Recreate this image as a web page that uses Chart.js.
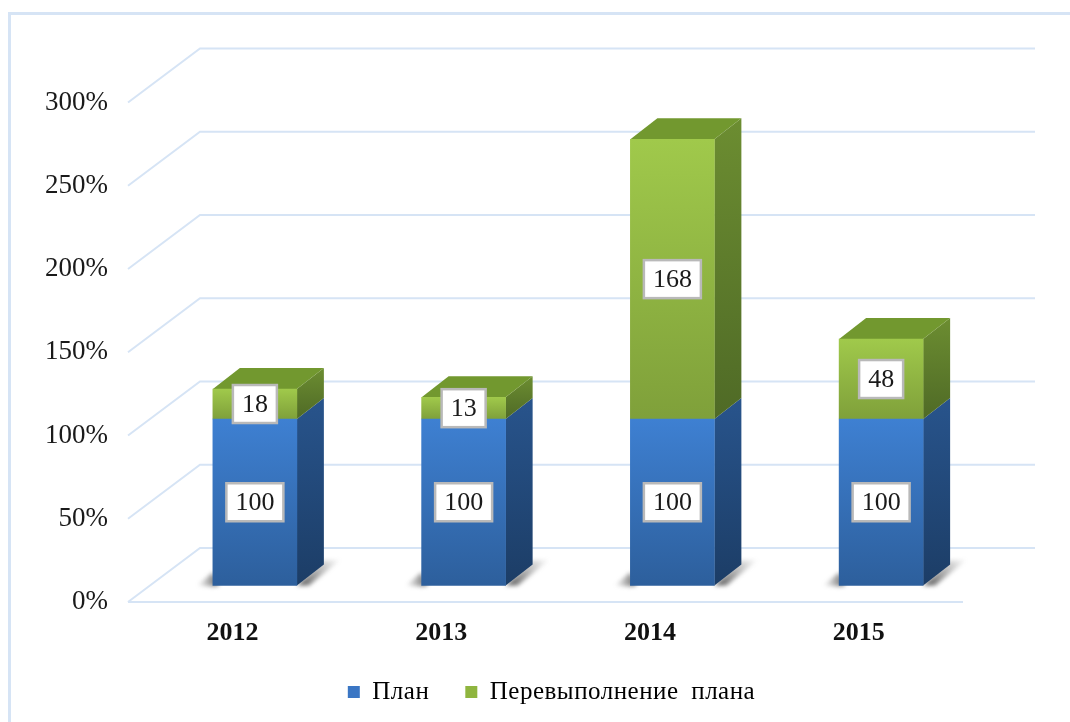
<!DOCTYPE html>
<html>
<head>
<meta charset="utf-8">
<style>
    html, body { margin: 0; padding: 0; background: #fff; }
    #wrap { width: 1070px; height: 722px; }
</style>
<script src="https://cdn.jsdelivr.net/npm/chart.js@4/dist/chart.umd.min.js"></script>
</head>
<body>
<div id="wrap"><canvas id="chart" width="1070" height="722"></canvas></div>
<script>
const years = ['2012', '2013', '2014', '2015'];
const planName = 'План';
const overName = 'Перевыполнение плана';
const planValues = [100, 100, 100, 100];
const overValues = [18, 13, 168, 48];

const serif = '"Liberation Serif", "Times New Roman", serif';
const lineColor = '#d6e4f5';
// how far the bars and the back wall sit from the front axis
const barShift = { x: 22.5, y: -16.5 };
const depth = { x: 27, y: 21 };
const wall = { x: 72, y: 54, right: 1035 };
const legendShiftX = 50;

const blue = { hi: '#3e80d2', lo: '#2d5f9c', sideHi: '#28548c', sideLo: '#1c3d66', top: '#2f619f' };
const green = { hi: '#a0c94b', lo: '#7fa03a', sideHi: '#6c8d31', sideLo: '#4f6a26', top: '#72982f' };

function frontFill(colors) {
    return function (c) {
        const sc = c.chart.scales.y;
        if (!sc) return colors.hi;
        const start = c.datasetIndex === 0 ? 0 : planValues[c.dataIndex];
        const end = start + c.raw;
        const g = c.chart.ctx.createLinearGradient(0, sc.getPixelForValue(end), 0, sc.getPixelForValue(start));
        g.addColorStop(0, colors.hi);
        g.addColorStop(1, colors.lo);
        return g;
    };
}

function poly(ctx, pts, fill) {
    ctx.beginPath();
    ctx.moveTo(pts[0][0], pts[0][1]);
    for (let i = 1; i < pts.length; i++) ctx.lineTo(pts[i][0], pts[i][1]);
    ctx.closePath();
    ctx.fillStyle = fill;
    ctx.fill();
}

function legendSpacing(ctx, on) {
    ctx.letterSpacing = on ? '0.5px' : '0px';
    ctx.wordSpacing = on ? '6px' : '0px';
}

// the legend text is spaced wider than canvas default and sits right of centre
const legendPlugin = {
    id: 'legendSpacing',
    beforeLayout(chart) {
        legendSpacing(chart.ctx, true);
    },
    afterLayout(chart) {
        legendSpacing(chart.ctx, false);
        const legend = chart.legend;
        if (legend.wrapped) return;
        legend.wrapped = true;
        const draw = legend.draw.bind(legend);
        legend.draw = function () {
            chart.ctx.save();
            legendSpacing(chart.ctx, true);
            chart.ctx.translate(legendShiftX, 0);
            draw();
            legendSpacing(chart.ctx, false);
            chart.ctx.restore();
        };
    }
};

// frame and perspective grid, under everything
const wallPlugin = {
    id: 'wall',
    beforeDraw(chart) {
        const ctx = chart.ctx;
        const y = chart.scales.y;
        const x = chart.scales.x;
        ctx.save();
        ctx.strokeStyle = lineColor;
        ctx.lineWidth = 3;
        ctx.beginPath();
        ctx.moveTo(9.5, 722);
        ctx.lineTo(9.5, 13.5);
        ctx.lineTo(1070, 13.5);
        ctx.stroke();
        ctx.lineWidth = 2;
        y.ticks.forEach(t => {
            const py = y.getPixelForValue(t.value);
            ctx.beginPath();
            ctx.moveTo(x.left, py);
            ctx.lineTo(x.left + wall.x, py - wall.y);
            ctx.lineTo(wall.right, py - wall.y);
            ctx.stroke();
        });
        const py0 = y.getPixelForValue(0);
        ctx.beginPath();
        ctx.moveTo(x.left, py0);
        ctx.lineTo(x.right, py0);
        ctx.stroke();
        ctx.restore();
    }
};

// 3d faces and floor shadow, bars get moved back with the same translate
const boxPlugin = {
    id: 'box',
    beforeDatasetsDraw(chart) {
        const ctx = chart.ctx;
        ctx.save();
        ctx.translate(barShift.x, barShift.y);
        const planBars = chart.getDatasetMeta(0).data;
        planBars.forEach(b => {
            const r = b.x + b.width / 2;
            const l = b.x - b.width / 2;
            const base = b.base;
            ctx.save();
            ctx.filter = 'blur(2px)';
            let g = ctx.createLinearGradient(l - 16, 0, l + 6, 0);
            g.addColorStop(0, 'rgba(90,90,90,0)');
            g.addColorStop(1, 'rgba(70,70,70,0.85)');
            poly(ctx, [[l - 16, base], [l, base - 13], [l + 6, base], [l, base + 1]], g);
            g = ctx.createLinearGradient(r + 5, base, r + 44, base - 26);
            g.addColorStop(0, 'rgba(70,70,70,0.85)');
            g.addColorStop(1, 'rgba(110,110,110,0)');
            poly(ctx, [[r, base], [r + depth.x, base - depth.y - 4], [r + 44, base - 26], [r + 12, base]], g);
            ctx.restore();
        });
        [0, 1].forEach(i => {
            const colors = i === 0 ? blue : green;
            chart.getDatasetMeta(i).data.forEach(b => {
                const r = b.x + b.width / 2;
                const l = b.x - b.width / 2;
                const g = ctx.createLinearGradient(0, b.y - depth.y, 0, b.base);
                g.addColorStop(0, colors.sideHi);
                g.addColorStop(1, colors.sideLo);
                poly(ctx, [[r, b.y], [r + depth.x, b.y - depth.y], [r + depth.x, b.base - depth.y], [r, b.base]], g);
                if (i === 1) {
                    poly(ctx, [[l, b.y], [l + depth.x, b.y - depth.y], [r + depth.x, b.y - depth.y], [r, b.y]], colors.top);
                }
            });
        });
    },
    afterDatasetsDraw(chart) {
        const ctx = chart.ctx;
        [0, 1].forEach(i => {
            const values = chart.data.datasets[i].data;
            chart.getDatasetMeta(i).data.forEach((b, k) => {
                const text = String(values[k]);
                const cy = (b.y + b.base) / 2;
                ctx.font = '26px ' + serif;
                const w = ctx.measureText(text).width + 18;
                const h = 38;
                ctx.fillStyle = '#fff';
                ctx.strokeStyle = '#b9b9b9';
                ctx.lineWidth = 2.5;
                ctx.fillRect(b.x - w / 2, cy - h / 2, w, h);
                ctx.strokeRect(b.x - w / 2, cy - h / 2, w, h);
                ctx.fillStyle = '#1a1a1a';
                ctx.textAlign = 'center';
                ctx.textBaseline = 'middle';
                ctx.fillText(text, b.x, cy + 1);
            });
        });
        ctx.restore();
    }
};

new Chart(document.getElementById('chart'), {
    type: 'bar',
    data: {
        labels: years,
        datasets: [
            { label: planName, data: planValues, backgroundColor: frontFill(blue), barThickness: 84, clip: false },
            { label: overName, data: overValues, backgroundColor: frontFill(green), barThickness: 84, clip: false }
        ]
    },
    plugins: [legendPlugin, wallPlugin, boxPlugin],
    options: {
        responsive: false,
        animation: false,
        layout: { padding: { left: 40, right: 107, top: 102.5, bottom: 7.5 } },
        scales: {
            x: {
                stacked: true,
                grid: { display: false },
                border: { display: false },
                ticks: { color: '#111', padding: 8, font: { family: serif, size: 26, weight: 'bold' } },
                afterFit(s) { s.height = 41.5; }
            },
            y: {
                stacked: true,
                min: 0,
                max: 300,
                grid: { display: false },
                border: { display: false },
                ticks: {
                    stepSize: 50,
                    color: '#1a1a1a',
                    padding: 12,
                    font: { family: serif, size: 27 },
                    callback: v => v + '%'
                },
                afterFit(s) { s.width = 88; }
            }
        },
        plugins: {
            tooltip: { enabled: false },
            legend: {
                position: 'bottom',
                labels: {
                    color: '#1a1a1a',
                    boxWidth: 12,
                    boxHeight: 12,
                    padding: 36,
                    font: { family: serif, size: 25 },
                    generateLabels() {
                        return [
                            { text: planName, fillStyle: '#3a76c4', strokeStyle: '#3a76c4', lineWidth: 0, datasetIndex: 0 },
                            { text: overName, fillStyle: '#8fb53f', strokeStyle: '#8fb53f', lineWidth: 0, datasetIndex: 1 }
                        ];
                    }
                }
            }
        }
    }
});
</script>
</body>
</html>
